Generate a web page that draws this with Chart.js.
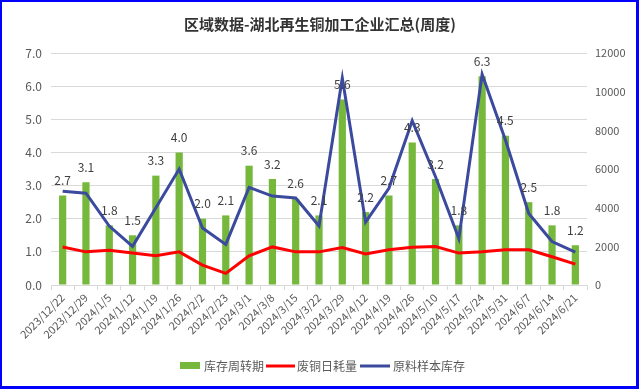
<!DOCTYPE html>
<html>
<head>
<meta charset="utf-8">
<script src="https://cdn.jsdelivr.net/npm/chart.js@4.4.1/dist/chart.umd.min.js"></script>
<style>
html,body{margin:0;padding:0;background:#fff;}
#wrap{position:relative;width:639px;height:389px;}
</style>
</head>
<body>
<div id="wrap"><canvas id="c" width="639" height="389"></canvas></div>
<script>
const titleText = '区域数据-湖北再生铜加工企业汇总(周度)';
const categories = ['2023/12/22','2023/12/29','2024/1/5','2024/1/12','2024/1/19','2024/1/26','2024/2/2','2024/2/23','2024/3/1','2024/3/8','2024/3/15','2024/3/22','2024/3/29','2024/4/12','2024/4/19','2024/4/26','2024/5/10','2024/5/17','2024/5/24','2024/5/31','2024/6/7','2024/6/14','2024/6/21'];
const turnover = [2.7,3.1,1.8,1.5,3.3,4.0,2.0,2.1,3.6,3.2,2.6,2.1,5.6,2.2,2.7,4.3,3.2,1.8,6.3,4.5,2.5,1.8,1.2];
const scrapDaily = [1970,1714,1800,1660,1510,1714,1030,600,1510,1970,1714,1714,1940,1610,1820,1950,1990,1650,1714,1820,1820,1460,1080];
const rawStock = [4850,4750,3050,2000,4000,6000,2950,2100,5050,4600,4500,3050,10700,3250,5000,8500,5600,2400,10900,7500,3700,2250,1700];
const leftTicks = [0,1,2,3,4,5,6,7];
const rightTicks = [0,2000,4000,6000,8000,10000,12000];
const seriesNames = ['库存周转期','废铜日耗量','原料样本库存'];

const GREEN = '#76B83C', RED = '#FF0000', BLUE = '#3B4A9E';
const AXIS_TXT = '#595959', LBL_TXT = '#404040', GRID = '#D9D9D9';
const FONT = "'Noto Sans CJK SC','Noto Sans',sans-serif";

const decor = {
  id: 'decor',
  afterDatasetsDraw(chart) {
    const ctx = chart.ctx;
    const meta = chart.getDatasetMeta(0);
    ctx.save();
    ctx.font = '12px ' + FONT;
    ctx.fillStyle = LBL_TXT;
    ctx.textAlign = 'center';
    ctx.textBaseline = 'bottom';
    meta.data.forEach((bar, i) => {
      ctx.fillText(turnover[i].toFixed(1), bar.x, bar.y - 9);
    });
    ctx.restore();
  },
  afterDraw(chart) {
    const ctx = chart.ctx;
    ctx.save();
    // title
    ctx.font = 'bold 15px ' + FONT;
    ctx.fillStyle = '#333333';
    ctx.textAlign = 'center';
    ctx.textBaseline = 'middle';
    ctx.fillText(titleText, 320, 24);
    // legend
    ctx.font = '12px ' + FONT;
    ctx.textAlign = 'left';
    ctx.textBaseline = 'middle';
    const ly = 366;
    ctx.fillStyle = GREEN;
    ctx.fillRect(180, 362, 20, 7);
    ctx.fillStyle = AXIS_TXT;
    ctx.fillText(seriesNames[0], 204, ly);
    ctx.strokeStyle = RED; ctx.lineWidth = 3;
    ctx.beginPath(); ctx.moveTo(266, ly); ctx.lineTo(295, ly); ctx.stroke();
    ctx.fillText(seriesNames[1], 297, ly);
    ctx.strokeStyle = BLUE;
    ctx.beginPath(); ctx.moveTo(360, ly); ctx.lineTo(390, ly); ctx.stroke();
    ctx.fillText(seriesNames[2], 393, ly);
    // border
    ctx.fillStyle = '#0000FF';
    ctx.fillRect(0, 0, 639, 2);
    ctx.fillRect(0, 0, 2, 389);
    ctx.fillRect(636, 0, 3, 389);
    ctx.fillRect(0, 386, 639, 3);
    ctx.restore();
  }
};

new Chart(document.getElementById('c'), {
  type: 'bar',
  data: {
    labels: categories,
    datasets: [
      { type: 'bar', label: seriesNames[0], data: turnover, yAxisID: 'y', backgroundColor: GREEN, barPercentage: 0.31, categoryPercentage: 1, order: 3 },
      { type: 'line', label: seriesNames[1], data: scrapDaily, yAxisID: 'y1', borderColor: RED, backgroundColor: RED, borderWidth: 3, pointRadius: 0, tension: 0, order: 2 },
      { type: 'line', label: seriesNames[2], data: rawStock, yAxisID: 'y1', borderColor: BLUE, backgroundColor: BLUE, borderWidth: 3, pointRadius: 0, tension: 0, order: 1 }
    ]
  },
  options: {
    responsive: false,
    animation: false,
    layout: { padding: { top: 53, left: 0, right: 0, bottom: 0 } },
    plugins: { legend: { display: false }, title: { display: false }, tooltip: { enabled: false } },
    scales: {
      x: {
        offset: true,
        grid: { display: true, drawOnChartArea: false, drawTicks: true, tickLength: 5, color: GRID, offset: true },
        border: { display: true, color: GRID, width: 1 },
        ticks: { color: AXIS_TXT, font: { size: 11, family: FONT }, minRotation: 45, maxRotation: 45, autoSkip: false, padding: 1 },
        afterFit(s) { s.height = 104; }
      },
      y: {
        position: 'left',
        min: 0, max: 7,
        afterBuildTicks(s) { s.ticks = leftTicks.map(v => ({ value: v })); },
        grid: { color: GRID, drawTicks: false },
        border: { display: false },
        ticks: { color: AXIS_TXT, font: { size: 12, family: FONT }, padding: 9, callback: v => Number(v).toFixed(1) },
        afterFit(s) { s.width = 51; }
      },
      y1: {
        position: 'right',
        min: 0, max: 12000,
        afterBuildTicks(s) { s.ticks = rightTicks.map(v => ({ value: v })); },
        grid: { display: false, drawTicks: false },
        border: { display: false },
        ticks: { color: AXIS_TXT, font: { size: 11, family: FONT }, padding: 8, callback: v => String(v) },
        afterFit(s) { s.width = 52; }
      }
    }
  },
  plugins: [decor]
});
</script>
</body>
</html>
